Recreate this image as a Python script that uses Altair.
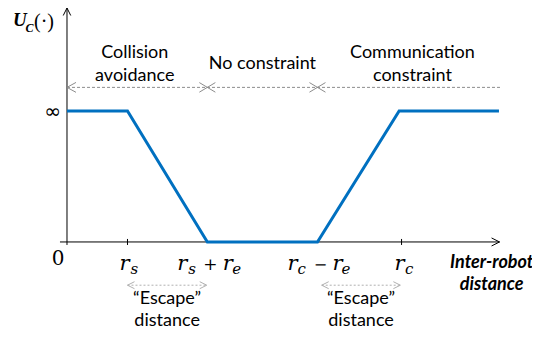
import altair as alt
import pandas as pd

# ---------------- data ----------------
curve_x = [0.0, 1.0, 2.32, 4.14, 5.49, 7.14]
curve_y = [1, 1, 0, 0, 1, 1]
tick_x = [1.0, 5.53]
region_edges = [0.0, 2.32, 4.14, 7.16]
region_text = ["Collision\navoidance", "No constraint", "Communication\nconstraint"]
region_text_x = [1.12, 3.23, 5.71]
region_text_dy = [-29.5, -18.5, -29.5]
band_y = 1.18
escape_start = [1.0, 4.21]
escape_end = [2.31, 5.51]
escape_y = -0.33
x_axis_range = [-0.116, 7.15]
y_axis_range = [-0.023, 1.786]
infinity_level = 1

# ---------------- scales ----------------
xs = alt.Scale(domain=[-0.975, 7.686], nice=False, zero=False)
ys = alt.Scale(domain=[-0.672, 1.786], nice=False, zero=False)


def X(f="x"):
    return alt.X(f"{f}:Q", scale=xs, axis=None)


def Y(f="y"):
    return alt.Y(f"{f}:Q", scale=ys, axis=None)


layers = []

# dashed band line with region boundaries
band = pd.DataFrame({"x": [region_edges[0]], "x2": [region_edges[-1]], "y": [band_y]})
layers.append(
    alt.Chart(band).mark_rule(color="#8c8c8c", strokeWidth=1, strokeDash=[3, 2]).encode(
        x=X(), x2="x2:Q", y=Y()
    )
)

# escape distance arrows
esc = pd.DataFrame({"x": escape_start, "x2": escape_end, "y": [escape_y] * 2})
layers.append(
    alt.Chart(esc).mark_rule(color="#b0b0b0", strokeWidth=1, strokeDash=[2, 2]).encode(
        x=X(), x2="x2:Q", y=Y()
    )
)

# axes
axes = pd.DataFrame(
    {
        "x": [x_axis_range[0], 0.0],
        "x2": [x_axis_range[1], 0.0],
        "y": [0.0, y_axis_range[0]],
        "y2": [0.0, y_axis_range[1]],
    }
)
layers.append(
    alt.Chart(axes).mark_rule(color="black", strokeWidth=1).encode(
        x=X(), x2="x2:Q", y=Y(), y2="y2:Q"
    )
)

# ticks
ticks = pd.DataFrame({"x": tick_x, "y": [-0.023] * 2, "y2": [0.023] * 2})
layers.append(
    alt.Chart(ticks).mark_rule(color="black", strokeWidth=1).encode(
        x=X(), y=Y(), y2="y2:Q"
    )
)

# curve
curve = pd.DataFrame({"x": curve_x, "y": curve_y, "i": range(len(curve_x))})
layers.append(
    alt.Chart(curve).mark_line(color="#0070C0", strokeWidth=3, strokeJoin="miter").encode(
        x=X(), y=Y(), order="i:Q"
    )
)

# arrow heads / crosses
RIGHT = "M-1,-0.5L0,0L-1,0.5"
LEFT = "M1,-0.5L0,0L1,0.5"
UP = "M-0.5,1L0,0L0.5,1"
CROSS = "M-1,-0.6L1,0.6M-1,0.6L1,-0.6"
heads = pd.DataFrame(
    [
        {"x": x_axis_range[1], "y": 0.0, "shape": RIGHT, "s": 256, "c": "black"},
        {"x": 0.0, "y": y_axis_range[1], "shape": UP, "s": 225, "c": "black"},
        {"x": region_edges[0], "y": band_y, "shape": "M1,-0.55L0,0L1,0.55", "s": 324, "c": "#8c8c8c"},
        {"x": region_edges[1], "y": band_y, "shape": CROSS, "s": 256, "c": "#8c8c8c"},
        {"x": region_edges[2], "y": band_y, "shape": CROSS, "s": 256, "c": "#8c8c8c"},
        {"x": escape_start[0], "y": escape_y, "shape": LEFT, "s": 196, "c": "#b0b0b0"},
        {"x": escape_end[0], "y": escape_y, "shape": RIGHT, "s": 196, "c": "#b0b0b0"},
        {"x": escape_start[1], "y": escape_y, "shape": LEFT, "s": 196, "c": "#b0b0b0"},
        {"x": escape_end[1], "y": escape_y, "shape": RIGHT, "s": 196, "c": "#b0b0b0"},
    ]
)
layers.append(
    alt.Chart(heads)
    .mark_point(filled=False, strokeWidth=1, opacity=1)
    .encode(
        x=X(),
        y=Y(),
        shape=alt.Shape("shape:N", scale=None),
        size=alt.Size("s:Q", scale=None),
        color=alt.Color("c:N", scale=None),
    )
)

# region labels
reg = pd.DataFrame({"x": region_text_x, "y": [band_y] * 3, "t": region_text, "dy": region_text_dy})
for i in range(3):
    layers.append(
        alt.Chart(reg.iloc[[i]])
        .mark_text(
            font="Lato", fontSize=18, color="black", align="center", baseline="alphabetic",
            lineBreak="\n", lineHeight=23, dy=float(region_text_dy[i]),
        )
        .encode(x=X(), y=Y(), text="t:N")
    )

# escape labels
esc_lab = pd.DataFrame(
    {
        "x": [(a + b) / 2 for a, b in zip(escape_start, escape_end)],
        "y": [0.0, 0.0],
        "t": ["\u201cEscape\u201d\ndistance"] * 2,
    }
)
layers.append(
    alt.Chart(esc_lab)
    .mark_text(font="Lato", fontSize=18, color="black", align="center", baseline="alphabetic",
               lineBreak="\n", lineHeight=22, dy=62)
    .encode(x=X(), y=Y(), text="t:N")
)

# x axis title
xt = pd.DataFrame({"x": [7.02], "y": [0.0], "t": ["Inter-robot\ndistance"]})
layers.append(
    alt.Chart(xt)
    .mark_text(font="Lato", fontSize=18, fontWeight="bold", fontStyle="italic", color="black",
               align="center", baseline="alphabetic", lineBreak="\n", lineHeight=22, dy=26)
    .encode(x=X(), y=Y(), text="t:N")
)


def piece(x, y, text, dx, dy, size=21, style="italic", weight="normal", align="left",
          font="DejaVu Serif"):
    df = pd.DataFrame({"x": [x], "y": [y], "t": [text]})
    return (
        alt.Chart(df)
        .mark_text(font=font, fontSize=size, fontStyle=style, fontWeight=weight, color="black",
                   align=align, baseline="alphabetic", dx=dx, dy=dy)
        .encode(x=X(), y=Y(), text="t:N")
    )


# tick labels (math)
rs, rc = tick_x
c1, c2 = region_edges[1], region_edges[2]
layers += [
    piece(0.0, 0.0, "0", -9, 23, size=20, style="normal", align="center"),
    piece(rs, 0.0, "r", -8, 28),
    piece(rs, 0.0, "s", 3, 32, size=15),
    piece(c1, 0.0, "r", -30, 28),
    piece(c1, 0.0, "s", -19, 32, size=15),
    piece(c1, 0.0, "+", 3, 28, size=17, style="normal", align="center"),
    piece(c1, 0.0, "r", 15.5, 28),
    piece(c1, 0.0, "e", 25, 32, size=15),
    piece(c2, 0.0, "r", -30, 28),
    piece(c2, 0.0, "c", -20, 32, size=15),
    piece(c2, 0.0, "\u2212", 3, 28, size=16, style="normal", align="center"),
    piece(c2, 0.0, "r", 15, 28),
    piece(c2, 0.0, "e", 24, 32, size=15),
    piece(rc, 0.0, "r", -7, 28),
    piece(rc, 0.0, "c", 3.5, 32, size=15),
    # infinity and y title
    piece(0.0, infinity_level, "\u221e", -14.5, 7, size=20, style="normal", align="center",
          font="DejaVu Sans"),
    piece(0.0, y_axis_range[1], "U", -54, 18, size=19, weight="bold", font="Liberation Serif"),
    piece(0.0, y_axis_range[1], "C", -41.5, 24, size=12, weight="bold", font="Liberation Serif"),
    piece(0.0, y_axis_range[1], "(\u00b7)", -33, 20, size=20, style="normal",
          font="Liberation Serif"),
]

chart = (
    alt.layer(*layers)
    .properties(width=524, height=322, autosize="none", padding=0)
    .configure_view(stroke=None)
)

chart.save("out.html", embed_options={"renderer": "svg", "actions": False})
